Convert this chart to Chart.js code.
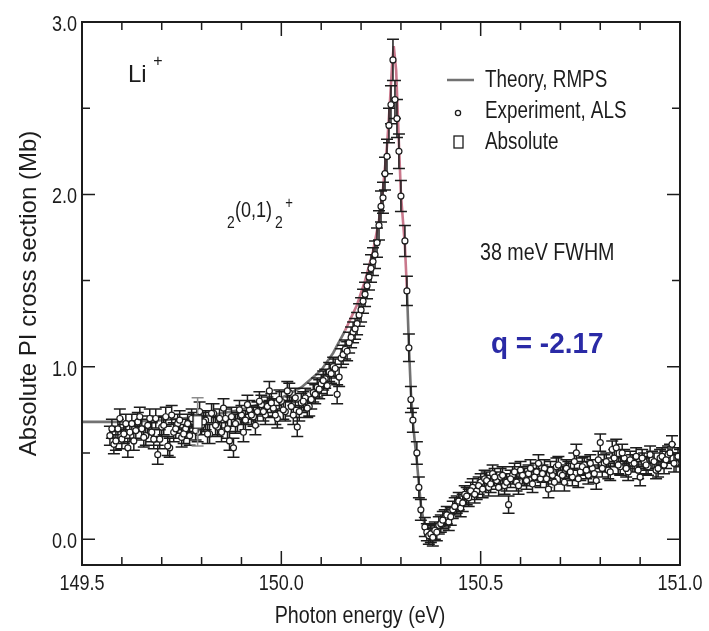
<!DOCTYPE html>
<html>
<head>
<meta charset="utf-8">
<script src="https://cdn.jsdelivr.net/npm/chart.js@4.4.0/dist/chart.umd.min.js"></script>
<style>
  html, body { margin: 0; padding: 0; background: #fff; }
</style>
</head>
<body>
<canvas id="piChart" width="709" height="631"></canvas>
<script>
// THEORY (RMPS) CURVE
const theoryX = [
  149.5, 149.6, 149.7, 149.8, 149.9, 150.0, 150.05, 150.1, 150.13, 150.16,
  150.19, 150.21, 150.23, 150.245, 150.255, 150.265, 150.272, 150.278, 150.282, 150.288,
  150.294, 150.3, 150.305, 150.31, 150.315, 150.32, 150.325, 150.33, 150.335, 150.34,
  150.345, 150.35, 150.355, 150.36, 150.37, 150.38, 150.39, 150.4, 150.43, 150.46,
  150.5, 150.55, 150.6, 150.7, 150.8, 150.9, 151.0,
];
const theoryY = [
  0.68, 0.68, 0.69, 0.71, 0.75, 0.82, 0.88, 0.98, 1.08, 1.21,
  1.36, 1.5, 1.67, 1.85, 2.03, 2.28, 2.52, 2.76, 2.86, 2.72,
  2.35, 2.0, 1.85, 1.7, 1.45, 1.12, 0.85, 0.68, 0.56, 0.45,
  0.32, 0.2, 0.13, 0.08, 0.04, 0.04, 0.06, 0.09, 0.17, 0.24,
  0.3, 0.34, 0.37, 0.4, 0.42, 0.44, 0.45,
];

// EXPERIMENT (ALS), MAIN SWEEP
const expX = [
  149.57, 149.58, 149.59, 149.6, 149.61, 149.62, 149.63, 149.64, 149.65, 149.66,
  149.67, 149.68, 149.69, 149.7, 149.71, 149.72, 149.73, 149.74, 149.75, 149.76,
  149.77, 149.78, 149.79, 149.8, 149.81, 149.82, 149.83, 149.84, 149.85, 149.86,
  149.87, 149.88, 149.89, 149.9, 149.91, 149.92, 149.93, 149.94, 149.95, 149.96,
  149.97, 149.98, 149.99, 150.0, 150.01, 150.02, 150.03, 150.04, 150.05, 150.06,
  150.07, 150.08, 150.09, 150.1, 150.11, 150.12, 150.13, 150.14, 150.15, 150.16,
  150.17, 150.18, 150.19, 150.195, 150.2, 150.205, 150.21, 150.215, 150.22, 150.225,
  150.23, 150.235, 150.24, 150.245, 150.25, 150.255, 150.26, 150.265, 150.27, 150.275,
  150.28, 150.285, 150.29, 150.295, 150.3, 150.31, 150.315, 150.32, 150.325, 150.33,
  150.34, 150.345, 150.35, 150.36, 150.365, 150.37, 150.375, 150.38, 150.385, 150.39,
  150.395, 150.4, 150.41, 150.42, 150.43, 150.44, 150.45, 150.46, 150.47, 150.48,
  150.49, 150.5, 150.51, 150.52, 150.53, 150.54, 150.55, 150.56, 150.57, 150.58,
  150.59, 150.6, 150.61, 150.62, 150.63, 150.64, 150.65, 150.66, 150.67, 150.68,
  150.69, 150.7, 150.71, 150.72, 150.73, 150.74, 150.75, 150.76, 150.77, 150.78,
  150.79, 150.8, 150.81, 150.82, 150.83, 150.84, 150.85, 150.86, 150.87, 150.88,
  150.89, 150.9, 150.91, 150.92, 150.93, 150.94, 150.95, 150.96, 150.97, 150.98,
  150.99, 151.0,
];
const expY = [
  0.6, 0.55, 0.64, 0.58, 0.67, 0.62, 0.57, 0.68, 0.64, 0.6,
  0.7, 0.58, 0.49, 0.65, 0.71, 0.53, 0.62, 0.67, 0.59, 0.64,
  0.6, 0.68, 0.62, 0.66, 0.69, 0.61, 0.73, 0.65, 0.62, 0.7,
  0.57, 0.53, 0.68, 0.72, 0.69, 0.75, 0.71, 0.74, 0.78, 0.72,
  0.86, 0.76, 0.7, 0.8, 0.74, 0.85, 0.72, 0.65, 0.79, 0.82,
  0.77, 0.85, 0.88, 0.9, 0.93, 0.97, 1.0, 0.84, 1.05, 1.1,
  1.14, 1.2, 1.25, 1.3, 1.33, 1.38, 1.42, 1.47, 1.52, 1.57,
  1.61, 1.65, 1.72, 1.82, 1.93, 1.98, 2.12, 2.22, 2.4, 2.52,
  2.78, 2.55, 2.44, 2.25, 1.99, 1.73, 1.44, 1.11, 0.81, 0.69,
  0.5, 0.3, 0.17, 0.07, 0.04, 0.02, 0.03, 0.01, 0.05, 0.04,
  0.08, 0.09, 0.12, 0.1, 0.17, 0.2, 0.18, 0.26, 0.24, 0.3,
  0.28, 0.33, 0.35, 0.3, 0.38, 0.34, 0.36, 0.31, 0.2, 0.37,
  0.33, 0.4, 0.36, 0.38, 0.32, 0.39, 0.35, 0.41, 0.29, 0.37,
  0.42, 0.38, 0.33, 0.4, 0.36, 0.5, 0.39, 0.43, 0.37, 0.41,
  0.34, 0.56, 0.44, 0.4, 0.52, 0.53, 0.42, 0.47, 0.39, 0.44,
  0.48, 0.36, 0.45, 0.42, 0.46, 0.4, 0.47, 0.43, 0.49, 0.55,
  0.44, 0.47,
];
const expErr = [
  0.055, 0.055, 0.055, 0.055, 0.055, 0.055, 0.055, 0.055, 0.055, 0.055,
  0.055, 0.055, 0.055, 0.055, 0.055, 0.055, 0.055, 0.055, 0.055, 0.055,
  0.055, 0.055, 0.055, 0.055, 0.055, 0.055, 0.055, 0.055, 0.055, 0.055,
  0.055, 0.055, 0.055, 0.055, 0.055, 0.055, 0.055, 0.055, 0.055, 0.055,
  0.055, 0.055, 0.055, 0.055, 0.055, 0.055, 0.055, 0.055, 0.055, 0.055,
  0.055, 0.055, 0.055, 0.055, 0.055, 0.055, 0.055, 0.055, 0.055, 0.055,
  0.06, 0.06, 0.065, 0.065, 0.07, 0.07, 0.07, 0.075, 0.075, 0.08,
  0.08, 0.08, 0.085, 0.085, 0.09, 0.09, 0.095, 0.1, 0.1, 0.11,
  0.12, 0.11, 0.11, 0.1, 0.09, 0.09, 0.085, 0.08, 0.075, 0.07,
  0.065, 0.06, 0.06, 0.055, 0.05, 0.05, 0.05, 0.05, 0.05, 0.05,
  0.05, 0.05, 0.05, 0.05, 0.05, 0.05, 0.05, 0.05, 0.05, 0.05,
  0.05, 0.05, 0.05, 0.05, 0.05, 0.05, 0.05, 0.05, 0.05, 0.05,
  0.05, 0.05, 0.05, 0.05, 0.05, 0.05, 0.05, 0.05, 0.05, 0.05,
  0.05, 0.05, 0.05, 0.05, 0.05, 0.05, 0.05, 0.05, 0.05, 0.05,
  0.05, 0.05, 0.05, 0.05, 0.05, 0.05, 0.05, 0.05, 0.05, 0.05,
  0.05, 0.05, 0.05, 0.05, 0.05, 0.05, 0.05, 0.05, 0.05, 0.05,
  0.05, 0.05,
];

// EXPERIMENT (ALS), INTERLEAVED SWEEP
const expX2 = [
  149.575, 149.585, 149.595, 149.605, 149.615, 149.625, 149.635, 149.645, 149.655, 149.665,
  149.675, 149.685, 149.695, 149.705, 149.715, 149.725, 149.735, 149.745, 149.755, 149.765,
  149.775, 149.785, 149.795, 149.805, 149.815, 149.825, 149.835, 149.845, 149.855, 149.865,
  149.875, 149.885, 149.895, 149.905, 149.915, 149.925, 149.935, 149.945, 149.955, 149.965,
  149.975, 149.985, 149.995, 150.005, 150.015, 150.025, 150.035, 150.045, 150.055, 150.065,
  150.075, 150.085, 150.095, 150.105, 150.115, 150.125, 150.135, 150.145, 150.155, 150.165,
  150.175, 150.185,
  150.405, 150.415, 150.425, 150.435, 150.445, 150.455, 150.465, 150.475, 150.485, 150.495,
  150.505, 150.515, 150.525, 150.535, 150.545, 150.555, 150.565, 150.575, 150.585, 150.595,
  150.605, 150.615, 150.625, 150.635, 150.645, 150.655, 150.665, 150.675, 150.685, 150.695,
  150.705, 150.715, 150.725, 150.735, 150.745, 150.755, 150.765, 150.775, 150.785, 150.795,
  150.805, 150.815, 150.825, 150.835, 150.845, 150.855, 150.865, 150.875, 150.885, 150.895,
  150.905, 150.915, 150.925, 150.935, 150.945, 150.955, 150.965, 150.975, 150.985, 150.995,
];
const expY2 = [
  0.64, 0.57, 0.7, 0.61, 0.53, 0.67, 0.63, 0.71, 0.59, 0.66,
  0.62, 0.7, 0.58, 0.66, 0.54, 0.72, 0.64, 0.69, 0.61, 0.67,
  0.7, 0.63, 0.74, 0.68, 0.61, 0.73, 0.66, 0.7, 0.76, 0.64,
  0.71, 0.67, 0.75, 0.62, 0.78, 0.72, 0.66, 0.8, 0.74, 0.77,
  0.79, 0.72, 0.81, 0.75, 0.86, 0.77, 0.82, 0.74, 0.8, 0.76,
  0.81, 0.84, 0.87, 0.92, 0.89, 0.96, 0.99, 0.94, 1.07, 1.09,
  1.17, 1.22,
  0.11, 0.14, 0.13, 0.19, 0.22, 0.21, 0.25, 0.28, 0.26, 0.31,
  0.29, 0.34, 0.32, 0.36, 0.3, 0.37, 0.33, 0.35, 0.39, 0.31,
  0.37, 0.34, 0.41, 0.36, 0.44, 0.38, 0.35, 0.4, 0.33, 0.43,
  0.37, 0.41, 0.39, 0.45, 0.35, 0.42, 0.4, 0.44, 0.38, 0.46,
  0.41, 0.45, 0.39, 0.47, 0.43, 0.5, 0.41, 0.46, 0.44, 0.4,
  0.47, 0.43, 0.49, 0.45, 0.41, 0.48, 0.46, 0.5, 0.44, 0.48,
];
const expErr2 = [
  0.055, 0.055, 0.055, 0.055, 0.055, 0.055, 0.055, 0.055, 0.055, 0.055,
  0.055, 0.055, 0.055, 0.055, 0.055, 0.055, 0.055, 0.055, 0.055, 0.055,
  0.055, 0.055, 0.055, 0.055, 0.055, 0.055, 0.055, 0.055, 0.055, 0.055,
  0.055, 0.055, 0.055, 0.055, 0.055, 0.055, 0.055, 0.055, 0.055, 0.055,
  0.055, 0.055, 0.055, 0.055, 0.055, 0.055, 0.055, 0.055, 0.055, 0.055,
  0.055, 0.055, 0.055, 0.055, 0.055, 0.055, 0.055, 0.055, 0.055, 0.055,
  0.06, 0.06,
  0.05, 0.05, 0.05, 0.05, 0.05, 0.05, 0.05, 0.05, 0.05, 0.05,
  0.05, 0.05, 0.05, 0.05, 0.05, 0.05, 0.05, 0.05, 0.05, 0.05,
  0.05, 0.05, 0.05, 0.05, 0.05, 0.05, 0.05, 0.05, 0.05, 0.05,
  0.05, 0.05, 0.05, 0.05, 0.05, 0.05, 0.05, 0.05, 0.05, 0.05,
  0.05, 0.05, 0.05, 0.05, 0.05, 0.05, 0.05, 0.05, 0.05, 0.05,
  0.05, 0.05, 0.05, 0.05, 0.05, 0.05, 0.05, 0.05, 0.05, 0.05,
];

// ABSOLUTE MEASUREMENT
const absX = [149.79];
const absY = [0.68];
const absErr = [0.14];

// AXES
const xMin = 149.5, xMax = 151.0, xStep = 0.1, xLabelStep = 0.5;
const yMin = -0.15, yMax = 3.0, yStep = 0.5, yLabelStep = 1.0;

const SANS = '"Liberation Sans", Arial, Helvetica, sans-serif';
const SQUEEZE = 0.82; // the original lettering is horizontally condensed
const INK = "#1c1c1c";
const GRAY_LINE = "#727272";
const PINK_LINE = "#c9788c";
const PINK_FROM = 1.15;

const toPoints = (xs, ys) => xs.map((x, i) => ({ x: x, y: ys[i] }));
const onStep = (v, step) => Math.abs(v / step - Math.round(v / step)) < 1e-6;

// open rectangle marker for the absolute point
function rectMarker(w, h) {
  const c = document.createElement("canvas");
  c.width = w + 2;
  c.height = h + 2;
  const g = c.getContext("2d");
  g.fillStyle = "#fff";
  g.fillRect(1, 1, w, h);
  g.strokeStyle = INK;
  g.lineWidth = 1.4;
  g.strokeRect(1, 1, w, h);
  return c;
}

// condensed text helper
function drawText(ctx, str, x, y, opts) {
  const o = opts || {};
  ctx.save();
  ctx.font = o.font;
  ctx.fillStyle = o.color || INK;
  ctx.textAlign = o.align || "left";
  ctx.textBaseline = "alphabetic";
  ctx.translate(x, y);
  ctx.scale(o.squeeze || SQUEEZE, 1);
  ctx.fillText(str, 0, 0);
  ctx.restore();
}

// ERROR BARS (drawn under each dataset's markers)
const errorBars = {
  id: "errorBars",
  beforeDatasetDraw(chart, args) {
    const ds = chart.data.datasets[args.index];
    if (!ds.errors) return;
    const { ctx, chartArea: a } = chart;
    const x = chart.scales.x;
    const y = chart.scales.y;
    ctx.save();
    ctx.beginPath();
    ctx.rect(a.left, a.top, a.right - a.left, a.bottom - a.top);
    ctx.clip();
    ctx.strokeStyle = ds.errorColor;
    ctx.lineWidth = 1.5;
    ctx.beginPath();
    ds.data.forEach((p, i) => {
      const px = x.getPixelForValue(p.x);
      const top = y.getPixelForValue(p.y + ds.errors[i]);
      const bot = y.getPixelForValue(p.y - ds.errors[i]);
      const cap = ds.capHalf;
      ctx.moveTo(px, top);
      ctx.lineTo(px, bot);
      ctx.moveTo(px - cap, top);
      ctx.lineTo(px + cap, top);
      ctx.moveTo(px - cap, bot);
      ctx.lineTo(px + cap, bot);
    });
    ctx.stroke();
    ctx.restore();
  },
};

// FRAME, INWARD TICKS AND TICK LABELS
const frameTicks = {
  id: "frameTicks",
  beforeDraw(chart) {
    const { ctx, width, height } = chart;
    ctx.save();
    ctx.fillStyle = "#fff";
    ctx.fillRect(0, 0, width, height);
    ctx.restore();
  },
  afterDatasetsDraw(chart) {
    const { ctx, chartArea: a } = chart;
    const x = chart.scales.x;
    const y = chart.scales.y;
    ctx.save();
    ctx.strokeStyle = INK;
    ctx.lineWidth = 1.5;
    ctx.beginPath();
    x.ticks.forEach((t) => {
      const px = x.getPixelForValue(t.value);
      const len = onStep(t.value, xLabelStep) ? 14 : 8;
      ctx.moveTo(px, a.bottom);
      ctx.lineTo(px, a.bottom - len);
      ctx.moveTo(px, a.top);
      ctx.lineTo(px, a.top + len);
    });
    y.ticks.forEach((t) => {
      const py = y.getPixelForValue(t.value);
      const len = onStep(t.value, yLabelStep) ? 13 : 8;
      ctx.moveTo(a.left, py);
      ctx.lineTo(a.left + len, py);
      ctx.moveTo(a.right, py);
      ctx.lineTo(a.right - len, py);
    });
    ctx.stroke();
    ctx.lineWidth = 2;
    ctx.strokeRect(a.left, a.top, a.right - a.left, a.bottom - a.top);
    ctx.restore();

    const tickFont = `22px ${SANS}`;
    x.ticks.forEach((t) => {
      if (!onStep(t.value, xLabelStep)) return;
      drawText(ctx, t.value.toFixed(1), x.getPixelForValue(t.value), a.bottom + 25, {
        font: tickFont,
        align: "center",
      });
    });
    y.ticks.forEach((t) => {
      if (!onStep(t.value, yLabelStep)) return;
      drawText(ctx, t.value.toFixed(1), a.left - 5, y.getPixelForValue(t.value) + 9, {
        font: tickFont,
        align: "right",
      });
    });
  },
};

// LABELS, LEGEND AND X TITLE
const annotations = {
  id: "annotations",
  afterDraw(chart) {
    const { ctx } = chart;

    // ion
    drawText(ctx, "Li", 128, 82, { font: `24px ${SANS}`, squeeze: 1 });
    drawText(ctx, "+", 158, 66, { font: `16px ${SANS}`, align: "center", squeeze: 1 });

    // resonance label 2(0,1)2+
    drawText(ctx, "2", 227, 228, { font: `17px ${SANS}` });
    drawText(ctx, "(0,1)", 235, 217, { font: `22px ${SANS}` });
    drawText(ctx, "2", 275, 228, { font: `17px ${SANS}` });
    drawText(ctx, "+", 289, 208, { font: `16px ${SANS}`, align: "center" });

    drawText(ctx, "38 meV FWHM", 480, 260, { font: `24px ${SANS}` });
    drawText(ctx, "q = -2.17", 491, 353, {
      font: `bold 30px ${SANS}`,
      color: "#2a2aa6",
      squeeze: 0.93,
    });

    // legend
    ctx.save();
    ctx.strokeStyle = GRAY_LINE;
    ctx.lineWidth = 2.5;
    ctx.beginPath();
    ctx.moveTo(447, 80);
    ctx.lineTo(474, 80);
    ctx.stroke();
    ctx.strokeStyle = INK;
    ctx.lineWidth = 1.3;
    ctx.beginPath();
    ctx.arc(458, 113, 2.6, 0, Math.PI * 2);
    ctx.stroke();
    ctx.strokeRect(454, 136, 9, 12);
    ctx.restore();
    drawText(ctx, "Theory, RMPS", 485, 87, { font: `23px ${SANS}` });
    drawText(ctx, "Experiment, ALS", 485, 118, { font: `23px ${SANS}` });
    drawText(ctx, "Absolute", 485, 149, { font: `23px ${SANS}` });

    // x axis title
    drawText(ctx, "Photon energy (eV)", 360, 623, { font: `24px ${SANS}`, align: "center" });
  },
};

const canvas = document.getElementById("piChart");

new Chart(canvas, {
  type: "scatter",
  data: {
    datasets: [
      {
        label: "Absolute",
        data: toPoints(absX, absY),
        errors: absErr,
        errorColor: "#8c8c8c",
        capHalf: 6,
        pointStyle: rectMarker(9, 13),
        pointRadius: 7,
        order: 1,
      },
      {
        label: "Experiment, ALS",
        data: toPoints(expX.concat(expX2), expY.concat(expY2)),
        errors: expErr.concat(expErr2),
        errorColor: INK,
        capHalf: 6,
        pointStyle: "circle",
        pointRadius: 3,
        pointBackgroundColor: "#fff",
        pointBorderColor: INK,
        pointBorderWidth: 1.2,
        order: 2,
      },
      {
        label: "Theory, RMPS",
        data: toPoints(theoryX, theoryY),
        showLine: true,
        borderColor: GRAY_LINE,
        borderWidth: 2.6,
        pointRadius: 0,
        tension: 0,
        segment: {
          borderColor: (ctx) =>
            ctx.p0.parsed.y > PINK_FROM && ctx.p1.parsed.y > PINK_FROM
              ? PINK_LINE
              : GRAY_LINE,
        },
        order: 3,
      },
    ],
  },
  options: {
    responsive: false,
    animation: false,
    layout: { padding: { top: 22, right: 29, left: 0, bottom: 0 } },
    plugins: {
      legend: { display: false },
      tooltip: { enabled: false },
    },
    scales: {
      x: {
        type: "linear",
        min: xMin,
        max: xMax,
        grid: { display: false, drawTicks: false },
        border: { display: false },
        afterFit: (scale) => {
          scale.height = 66;
        },
        ticks: {
          display: false,
          stepSize: xStep,
          includeBounds: false,
        },
      },
      y: {
        type: "linear",
        min: yMin,
        max: yMax,
        grid: { display: false, drawTicks: false },
        border: { display: false },
        afterFit: (scale) => {
          scale.width = 82;
        },
        title: {
          display: true,
          text: "Absolute PI cross section (Mb)",
          color: INK,
          font: { family: SANS, size: 24 },
          padding: { top: 15, bottom: 0 },
        },
        ticks: {
          display: false,
          stepSize: yStep,
          includeBounds: false,
        },
      },
    },
  },
  plugins: [errorBars, frameTicks, annotations],
});
</script>
</body>
</html>
